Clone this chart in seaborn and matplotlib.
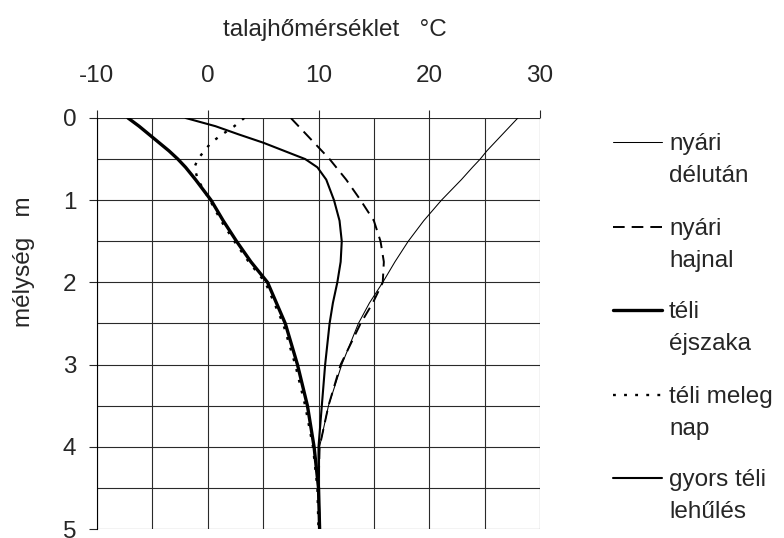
import numpy as np
import pandas as pd
import matplotlib
matplotlib.use("Agg")
import matplotlib.pyplot as plt
import seaborn as sns
from matplotlib.lines import Line2D
from matplotlib.ticker import MultipleLocator

# depth (m) and soil temperature (°C) for each profile
depth = [0, 0.1, 0.2, 0.3, 0.4, 0.5, 0.6, 0.75, 1.0, 1.25, 1.5, 1.75,
         2.0, 2.25, 2.5, 3.0, 3.5, 4.0, 4.5, 5.0]
nyari_delutan = [28.0, 27.3, 26.6, 25.9, 25.2, 24.6, 23.9, 22.9, 21.1, 19.5,
                 18.1, 16.9, 15.8, 14.6, 13.6, 12.1, 10.9, 10.1, 10.0, 10.1]
nyari_hajnal = [7.5, 8.2, 8.9, 9.6, 10.3, 11.0, 11.6, 12.5, 13.8, 15.0,
                15.6, 15.9, 15.8, 14.9, 13.8, 12.0, 10.9, 10.1, 10.0, 10.1]
teli_ejszaka = [-7.2, -6.2, -5.3, -4.4, -3.5, -2.7, -2.0, -1.1, 0.3, 1.4,
                2.6, 3.9, 5.4, 6.2, 7.0, 8.1, 9.0, 9.6, 10.0, 10.1]
teli_meleg_nap = [3.3, 2.4, 1.3, 0.3, -0.3, -0.9, -1.2, -0.9, 0.2, 1.2,
                  2.4, 3.7, 5.2, 6.0, 6.8, 7.9, 8.8, 9.5, 9.9, 10.0]
gyors_teli = [-2.0, 0.7, 2.8, 5.0, 6.9, 8.8, 9.9, 10.7, 11.4, 11.9,
              12.1, 12.0, 11.7, 11.3, 11.0, 10.6, 10.3, 10.0, 10.0, 10.1]

series = {
    "nyári\ndélután": nyari_delutan,
    "nyári\nhajnal": nyari_hajnal,
    "téli\néjszaka": teli_ejszaka,
    "téli meleg\nnap": teli_meleg_nap,
    "gyors téli\nlehűlés": gyors_teli,
}
styles = {
    "nyári\ndélután": dict(lw=0.75, ls="-"),
    "nyári\nhajnal": dict(lw=1.4, ls=(0, (6, 3.6))),
    "téli\néjszaka": dict(lw=2.4, ls="-"),
    "téli meleg\nnap": dict(lw=1.7, ls=(0, (1.2, 3.5))),
    "gyors téli\nlehűlés": dict(lw=1.5, ls="-"),
}

FS = 17.5
sns.set_style("white")
plt.rcParams["font.family"] = ["Liberation Sans", "DejaVu Sans"]
plt.rcParams["font.size"] = FS
plt.rcParams["axes.unicode_minus"] = False

fig = plt.figure(figsize=(7.84, 5.38), dpi=100)
ax = fig.add_axes([0.1237, 0.0167, 0.5651, 0.764])

for name, temps in series.items():
    df = pd.DataFrame({"temp": temps, "depth": depth})
    st = styles[name]
    sns.lineplot(data=df, x="temp", y="depth", orient="y", estimator=None,
                 color="black", linewidth=st["lw"], linestyle=st["ls"], ax=ax)

ax.set_xlim(-10, 30)
ax.set_ylim(5, 0)
ax.xaxis.tick_top()
ax.xaxis.set_label_position("top")
ax.xaxis.set_major_locator(MultipleLocator(10))
ax.xaxis.set_minor_locator(MultipleLocator(5))
ax.yaxis.set_major_locator(MultipleLocator(1))
ax.yaxis.set_minor_locator(MultipleLocator(0.5))
ax.grid(which="both", color="#2a2a2a", linewidth=0.8)
ax.tick_params(axis="x", which="major", top=True, bottom=False, length=6,
               width=0.8, pad=16, labelsize=FS)
ax.tick_params(axis="y", which="major", left=True, length=6, width=0.8,
               pad=9, labelsize=FS)
ax.tick_params(which="minor", length=0)
for side in ["top", "right", "bottom"]:
    ax.spines[side].set_visible(False)
ax.spines["left"].set_color("black")
ax.spines["left"].set_linewidth(0.8)

ax.set_xlabel("talajhőmérséklet   °C", fontsize=FS)
ax.xaxis.set_label_coords(0.537, 1.215)
ax.xaxis.label.set_va("center")
ax.set_ylabel("mélység   m", fontsize=FS)
ax.yaxis.set_label_coords(-0.165, 0.65)
ax.yaxis.label.set_va("center")

# legend drawn by hand: handle level with the first text line
W, H = 784, 538
legend_y = [142, 227, 310, 395, 478]
for (name, _), yp in zip(series.items(), legend_y):
    st = styles[name]
    fig.add_artist(Line2D([613 / W, 662 / W], [1 - yp / H, 1 - yp / H],
                          color="black", linewidth=st["lw"], linestyle=st["ls"]))
    fig.text(669 / W, 1 - (yp - 9) / H, name, fontsize=FS, ha="left",
             va="top", linespacing=1.6)

fig.savefig("out.png", dpi=100)
